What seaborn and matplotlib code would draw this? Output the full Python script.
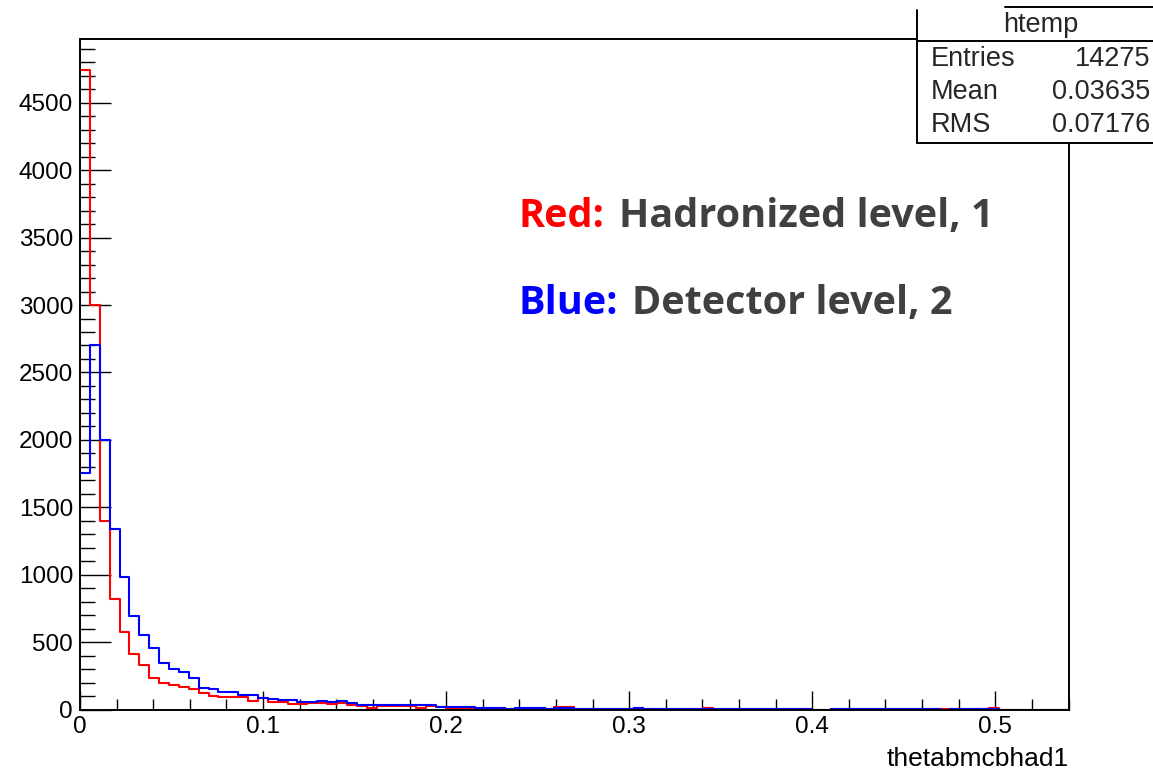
import numpy as np
import pandas as pd
import matplotlib
matplotlib.use("Agg")
import matplotlib.pyplot as plt
import seaborn as sns
from matplotlib.ticker import MultipleLocator
from matplotlib.patches import Rectangle
from matplotlib.lines import Line2D

# ---------------- data ----------------
x_min, x_max, n_bins = 0.0, 0.54, 100

red_counts = [
    4740, 3000, 1400, 819, 577, 414, 328, 237, 197, 182,
    167, 152, 120, 101, 90, 93, 93, 62, 88, 58,
    57, 40, 40, 51, 51, 39, 49, 37, 24, 10,
    24, 24, 24, 24, 10, 24, 15, 12, 10, 8,
    12, 10, 10, 2, 10, 10, 10, 3, 20, 20,
    3, 3, 3, 3, 3, 3, 10, 3, 3, 3,
    3, 3, 3, 14, 3, 3, 3, 3, 6, 3,
    3, 3, 3, 3, 0, 0, 2, 3, 2, 2,
    2, 2, 2, 5, 2, 2, 2, 2, 2, 2,
    2, 2, 8, 0, 0, 0, 0, 0, 0, 0,
]
blue_counts = [
    1752, 2700, 2000, 1342, 985, 697, 555, 456, 345, 303,
    278, 237, 163, 155, 130, 130, 106, 106, 86, 80,
    70, 70, 57, 57, 63, 57, 60, 49, 37, 37,
    37, 37, 37, 37, 37, 37, 20, 20, 20, 18,
    14, 12, 12, 3, 12, 12, 12, 5, 8, 8,
    6, 6, 6, 6, 6, 6, 12, 5, 5, 5,
    5, 5, 5, 6, 5, 5, 5, 5, 6, 5,
    5, 5, 5, 5, 0, 0, 5, 5, 5, 5,
    5, 5, 5, 5, 5, 5, 5, 0, 5, 5,
    5, 5, 5, 0, 0, 0, 0, 0, 0, 0,
]
x_label = "thetabmcbhad1"
stats_title = "htemp"
stats_names = ["Entries", "Mean", "RMS"]
stats_values = ["14275", "0.03635", "0.07176"]
note_keys = ["Red:", "Blue:"]
note_texts = ["Hadronized level, 1", "Detector level, 2"]
note_colors = ["#ff0000", "#0000ff"]

# ---------------- style ----------------
sns.set_style("white")
plt.rcParams["font.family"] = ["Liberation Sans", "DejaVu Sans"]

W, H = 1153, 770
fig = plt.figure(figsize=(W / 100, H / 100), dpi=100)
fig.patch.set_facecolor("white")


def fx(px):
    return px / W


def fy(py):
    return 1 - py / H


ax_l, ax_r, ax_t, ax_b = 80, 1068.5, 38.5, 709.5
ax = fig.add_axes([fx(ax_l), fy(ax_b), fx(ax_r) - fx(ax_l), fy(ax_t) - fy(ax_b)])

edges = np.linspace(x_min, x_max, n_bins + 1)
centers = 0.5 * (edges[:-1] + edges[1:])
df_red = pd.DataFrame({"x": centers, "w": red_counts})
df_blue = pd.DataFrame({"x": centers, "w": blue_counts})

sns.histplot(data=df_red, x="x", weights="w", bins=n_bins, binrange=(x_min, x_max),
             element="step", fill=False, color="#ff0000", linewidth=1.5, ax=ax)
sns.histplot(data=df_blue, x="x", weights="w", bins=n_bins, binrange=(x_min, x_max),
             element="step", fill=False, color="#0000ff", linewidth=1.5, ax=ax)

ax.set_xlim(x_min, x_max)
ax.set_ylim(0, 1.05 * max(red_counts))
ax.set_ylabel("")
ax.set_xlabel(x_label, loc="right", fontsize=19, labelpad=6, color="black")

ax.xaxis.set_major_locator(MultipleLocator(0.1))
ax.xaxis.set_minor_locator(MultipleLocator(0.02))
ax.yaxis.set_major_locator(MultipleLocator(500))
ax.yaxis.set_minor_locator(MultipleLocator(100))
ax.xaxis.set_major_formatter(matplotlib.ticker.FuncFormatter(lambda v, p: f"{v:g}"))

ax.tick_params(axis="both", which="both", direction="in", colors="black",
               bottom=True, left=True, top=False, right=False, labelsize=17.5)
ax.tick_params(axis="y", which="major", length=22, width=1.0, pad=5)
ax.tick_params(axis="y", which="minor", length=11, width=1.0)
ax.tick_params(axis="x", which="major", length=14, width=1.0, pad=5)
ax.tick_params(axis="x", which="minor", length=8, width=1.0)
for s in ax.spines.values():
    s.set_color("black")
    s.set_linewidth(1.4)
    s.set_visible(True)
ax.grid(False)

# ---------------- stats box ----------------
bx_l, bx_t, bx_b = 917, 10, 143
fig.add_artist(Rectangle((fx(bx_l), fy(bx_b)), fx(W) - fx(bx_l) + 0.01, fy(bx_t) - fy(bx_b),
                         transform=fig.transFigure, facecolor="white", edgecolor="none", zorder=10))
lk = dict(transform=fig.transFigure, color="black", linewidth=1.4, zorder=11)
fig.add_artist(Line2D([fx(bx_l), fx(bx_l)], [fy(bx_t), fy(bx_b)], **lk))
fig.add_artist(Line2D([fx(bx_l), 1.0], [fy(bx_b), fy(bx_b)], **lk))
fig.add_artist(Line2D([fx(bx_l), 1.0], [fy(41), fy(41)], **lk))
fig.add_artist(Line2D([fx(1005), 1.0], [fy(7), fy(7)], **lk))
fig.text(fx(1041), fy(25), stats_title, ha="center", va="center", fontsize=19.5, zorder=12)
for i, (n, v) in enumerate(zip(stats_names, stats_values)):
    yy = fy(59 + 33 * i)
    fig.text(fx(931), yy, n, ha="left", va="center", fontsize=19.5, zorder=12)
    fig.text(fx(1150), yy, v, ha="right", va="center", fontsize=19.5, zorder=12)

# ---------------- annotations ----------------
note_font = ["Open Sans", "DejaVu Sans"]
note_y = [227, 314]
note_text_x = [619, 632]
for k, t, c, yb, xt in zip(note_keys, note_texts, note_colors, note_y, note_text_x):
    fig.text(fx(518), fy(yb), k, color=c, fontsize=28.5, fontweight="bold",
             family=note_font, ha="left", va="baseline")
    fig.text(fx(xt), fy(yb), t, color="#404040", fontsize=28.5, fontweight="bold",
             family=note_font, ha="left", va="baseline")

fig.savefig("out.png", dpi=100, facecolor="white")
